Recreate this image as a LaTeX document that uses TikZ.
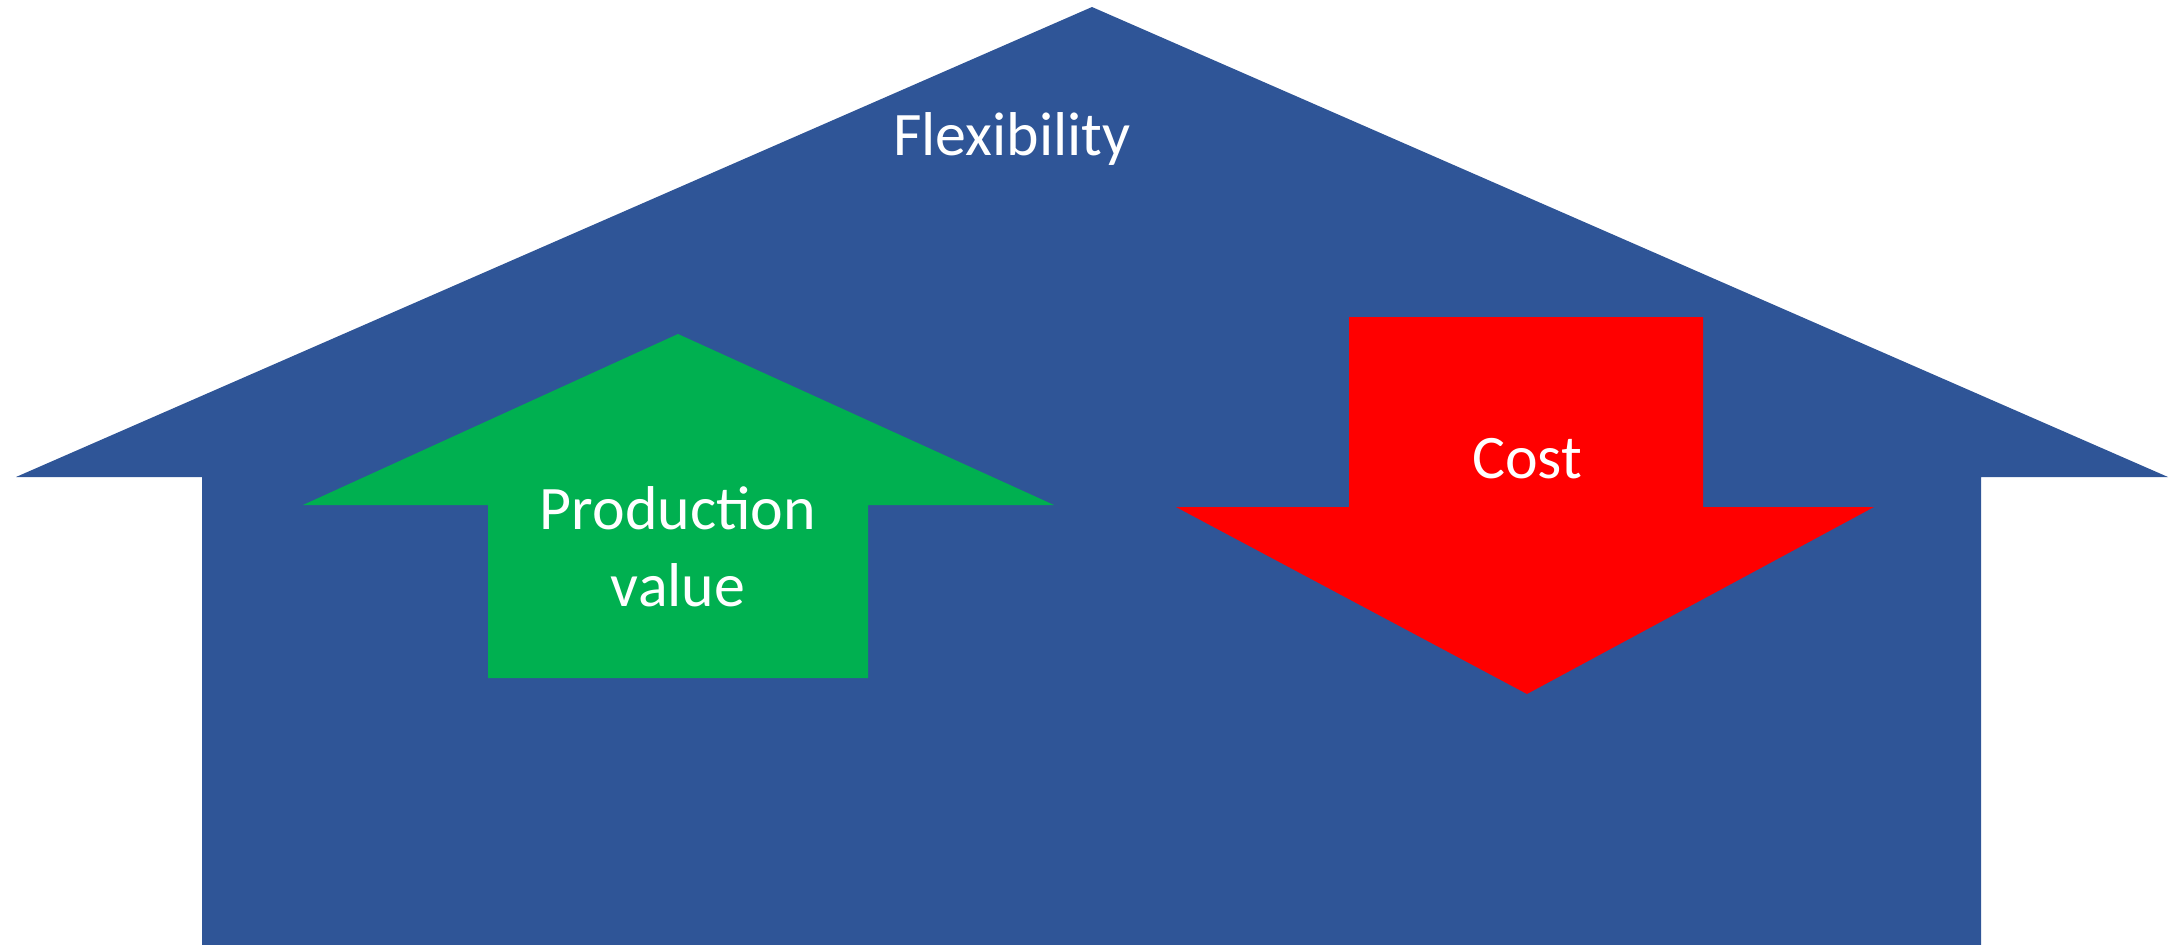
\documentclass[tikz,border=0pt]{standalone}
\usepackage{fontspec}
\setmainfont{Carlito}
\usetikzlibrary{positioning}

\definecolor{houseblue}{HTML}{2F5597}
\definecolor{upgreen}{HTML}{00B050}
\definecolor{downred}{HTML}{FF0000}

\begin{document}
\begin{tikzpicture}[x=0.01cm, y=-0.01cm,
  every node/.style={text=white, align=center, font=\fontsize{17.6}{21.9}\selectfont}]

\useasboundingbox (0,0) rectangle (2177,945);

\path
(1092,7) coordinate (roof top)
(16,477) coordinate (roof left)
(2168,477) coordinate (roof right)
(202,945) coordinate (wall left)
(1981,945) coordinate (wall right)
;

% house
\fill[houseblue] (roof left) -- (roof top) -- (roof right) -- (wall right |- roof right)
  -- (wall right) -- (wall left) -- (wall left |- roof left) -- cycle;

% up and down arrows
\fill[upgreen] (678,334) -- (1054,505) -- (868,505) -- (868,678) -- (488,678)
  -- (488,505) -- (303,505) -- cycle;
\fill[downred] (1349,317) -- (1703,317) -- (1703,507) -- (1874,507) -- (1527,694)
  -- (1176,507) -- (1349,507) -- cycle;

\node (flex) at (1012,139) {Flexibility};
\node (prod) at (678,547) {Production\\value};
\node (cost) at (1527,459) {Cost};

\end{tikzpicture}
\end{document}
